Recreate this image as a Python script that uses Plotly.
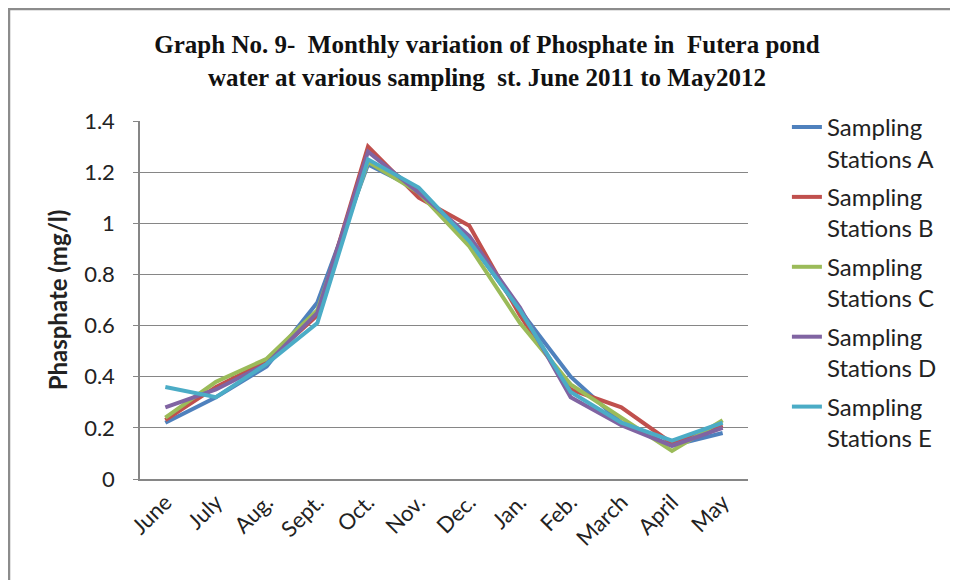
import plotly.graph_objects as go

months = ["June", "July", "Aug.", "Sept.", "Oct.", "Nov.", "Dec.", "Jan.", "Feb.", "March", "April", "May"]

station_a = [0.22, 0.32, 0.44, 0.69, 1.23, 1.13, 0.93, 0.66, 0.40, 0.22, 0.13, 0.18]
station_b = [0.23, 0.36, 0.46, 0.64, 1.30, 1.10, 0.99, 0.64, 0.35, 0.28, 0.14, 0.21]
station_c = [0.24, 0.38, 0.47, 0.66, 1.24, 1.12, 0.91, 0.61, 0.37, 0.24, 0.11, 0.23]
station_d = [0.28, 0.35, 0.45, 0.65, 1.28, 1.12, 0.95, 0.67, 0.32, 0.21, 0.13, 0.20]
station_e = [0.36, 0.32, 0.45, 0.61, 1.25, 1.14, 0.93, 0.66, 0.34, 0.22, 0.15, 0.22]

names = ["Sampling<br>Stations A", "Sampling<br>Stations B", "Sampling<br>Stations C",
         "Sampling<br>Stations D", "Sampling<br>Stations E"]
colors = ["#4F81BD", "#C0504D", "#9BBB59", "#8064A2", "#4BACC6"]
series = [station_a, station_b, station_c, station_d, station_e]

fig = go.Figure()
for i, (name, vals, col) in enumerate(zip(names, series, colors)):
    fig.add_trace(go.Scatter(
        x=months, y=vals, mode="lines", name=name,
        legendgroup=str(i),
        line=dict(color=col, width=4),
    ))

# plot area: 608 x 358 px (page is offset by the 8px body margin)
L, R, T, B = 132, 218, 113, 109
PW, PH = 958 - L - R, 580 - T - B

fig.update_layout(
    width=958, height=580,
    margin=dict(l=L, r=R, t=T, b=B),
    paper_bgcolor="white", plot_bgcolor="white",
    font=dict(family="Lato", size=22, color="#222222"),
    title=dict(
        text="Graph No. 9-  Monthly variation of Phosphate in  Futera pond<br>water at various sampling  st. June 2011 to May2012",
        font=dict(family="Liberation Serif", size=25, color="#111111", weight="bold"),
        x=0.5, xanchor="center", y=0.922, yanchor="middle",
    ),
    legend=dict(
        x=1.064, xanchor="left", y=1.045, yanchor="top",
        font=dict(family="Lato", size=24, color="#222222"),
        tracegroupgap=4.5, valign="top", maxheight=520,
        bgcolor="rgba(0,0,0,0)",
    ),
    showlegend=True,
)

fig.update_xaxes(
    showgrid=False, showline=True, linecolor="#868686", linewidth=1.5,
    tickangle=-45, ticks="", tickfont=dict(size=22),
    range=[-0.5, 11.5],
)
fig.update_yaxes(
    range=[0, 1.4], dtick=0.2,
    showgrid=True, gridcolor="#868686", gridwidth=1.2,
    showline=True, linecolor="#868686", linewidth=1.5,
    ticks="outside", ticklen=5, tickcolor="#868686",
    ticklabelstandoff=14,
    zeroline=False, tickfont=dict(size=22),
    title=dict(text="<b>Phasphate (mg/l)</b>", font=dict(size=24), standoff=10),
)

# outer chart border (only top/left visible in the picture)
fig.add_shape(type="rect", xref="paper", yref="paper",
              x0=(1 - L) / PW, x1=(1000 - L) / PW,
              y0=(PH - 640 + T) / PH, y1=(PH + T - 1) / PH,
              line=dict(color="#8C8C8C", width=2.5), layer="below")

fig.write_html("out.html")
